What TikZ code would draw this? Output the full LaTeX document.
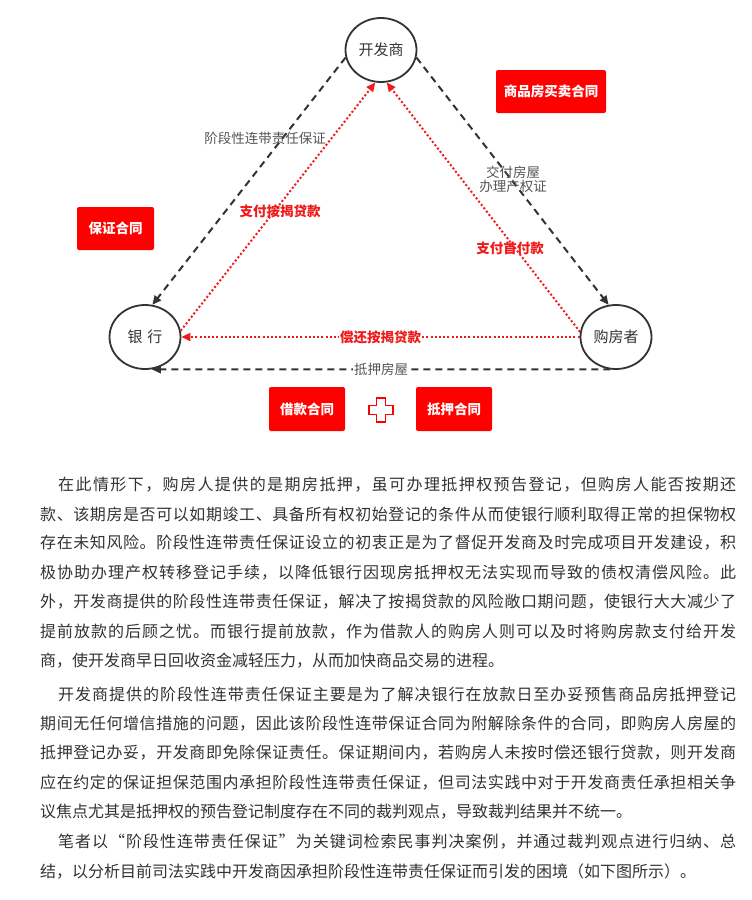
\documentclass[tikz,border=0pt]{standalone}
\usepackage{fontspec}
\setmainfont{Noto Sans CJK SC}
\usepackage{tikz}
\usetikzlibrary{arrows.meta,shapes.geometric}
\definecolor{inkgray}{HTML}{333333}
\definecolor{labelgray}{HTML}{555555}
\definecolor{boxred}{HTML}{FF0000}
\definecolor{cashred}{HTML}{F01A1A}
% spread the characters of one line over a given width
\makeatletter
\def\spreadline#1#2{\hbox to #1{\spread@first#2\@nil}}
\def\spread@first#1{#1\spread@next}
\def\spread@next#1{\ifx#1\@nil\else\hskip0pt plus 1fil #1\expandafter\spread@next\fi}
\makeatother

\begin{document}
\begin{tikzpicture}[x=1pt, y=-1pt, >={Triangle[length=9pt,width=8pt]},
		party/.style={ellipse, draw=inkgray, line width=1.8pt, minimum width=71pt, minimum height=64pt, inner sep=0pt, text=inkgray, font=\fontsize{15}{18}\selectfont},
		deal/.style={rectangle, rounded corners=2pt, fill=boxred, text=white, inner sep=0pt, font=\fontsize{13.5}{16}\selectfont\bfseries},
		tie/.style={draw=inkgray, line width=2pt, dash pattern=on 7pt off 5pt, ->},
		cash/.style={draw=cashred, line width=2pt, dash pattern=on 2pt off 2.2pt, ->},
		tielabel/.style={text=labelgray, inner sep=1pt, align=center, font=\fontsize{13.5}{15}\selectfont},
		cashlabel/.style={text=cashred, inner sep=1pt, font=\fontsize{13.5}{15}\selectfont\bfseries},
		body/.style={anchor=west, inner sep=0pt, text=inkgray, font=\fontsize{16}{20}\selectfont}]
		\path[use as bounding box, fill=white] (0,0) rectangle (752,900);
		% the three parties
		\node[party] (dev) at (381,50) {开发商};
		\node[party] (bank) at (145,337) {银\,\,行};
		\node[party] (buyer) at (616,337) {购房者};
		% contracts
		\node[deal, minimum width=110pt, minimum height=43pt] (sale) at (551,91.5) {商品房买卖合同};
		\node[deal, minimum width=77pt, minimum height=43pt] (guaranty) at (115.5,228.5) {保证合同};
		\node[deal, minimum width=76pt, minimum height=44pt] (loan) at (307,409) {借款合同};
		\node[deal, minimum width=76pt, minimum height=44pt] (pledge) at (454,409) {抵押合同};
		\draw[boxred, line width=1.8pt, fill=white, shift={(381,410)}]
			(-4.5,-12) -- (4.5,-12) -- (4.5,-4.5) -- (12,-4.5) -- (12,4.5) -- (4.5,4.5) -- (4.5,12)
			-- (-4.5,12) -- (-4.5,4.5) -- (-12,4.5) -- (-12,-4.5) -- (-4.5,-4.5) -- cycle; % plus sign
		% obligations
		\draw[tie] (dev.192) -- (bank.77);
		\draw[tie] (dev.-12) -- (buyer.103);
		\draw[tie] (buyer.-100) -- node[tielabel, fill=white] (mortgage) {抵押房屋} (bank.-78);
		\node[tielabel] (surety) at (265,138) {阶段性连带责任保证};
		\node[tielabel] (handover) at (513,179) {交付房屋\\[-1pt]办理产权证};
		% money flows
		\draw[cash] (bank.10) -- (dev.-100);
		\draw[cash] (buyer.172) -- (dev.-80);
		\draw[cash] (buyer.180) -- node[cashlabel, fill=white] (repay) {偿还按揭贷款} (bank.0);
		\node[cashlabel] (payloan) at (280,211) {支付按揭贷款};
		\node[cashlabel] (paydown) at (510,248) {支付首付款};
		% text below the figure
		\node[body] (l1) at (58,485) {\spreadline{678pt}{在此情形下，购房人提供的是期房抵押，虽可办理抵押权预告登记，但购房人能否按期还}};
		\node[body] (l2) at (40,514) {\spreadline{696pt}{款、该期房是否可以如期竣工、具备所有权初始登记的条件从而使银行顺利取得正常的担保物权}};
		\node[body] (l3) at (40,543) {\spreadline{696pt}{存在未知风险。阶段性连带责任保证设立的初衷正是为了督促开发商及时完成项目开发建设，积}};
		\node[body] (l4) at (40,572.5) {\spreadline{696pt}{极协助办理产权转移登记手续，以降低银行因现房抵押权无法实现而导致的债权清偿风险。此}};
		\node[body] (l5) at (40,602) {\spreadline{696pt}{外，开发商提供的阶段性连带责任保证，解决了按揭贷款的风险敞口期问题，使银行大大减少了}};
		\node[body] (l6) at (40,631.5) {\spreadline{696pt}{提前放款的后顾之忧。而银行提前放款，作为借款人的购房人则可以及时将购房款支付给开发}};
		\node[body] (l7) at (40,661) {商，使开发商早日回收资金减轻压力，从而加快商品交易的进程。};
		\node[body] (m1) at (58,694) {\spreadline{678pt}{开发商提供的阶段性连带责任保证主要是为了解决银行在放款日至办妥预售商品房抵押登记}};
		\node[body] (m2) at (40,723.5) {\spreadline{696pt}{期间无任何增信措施的问题，因此该阶段性连带保证合同为附解除条件的合同，即购房人房屋的}};
		\node[body] (m3) at (40,753) {\spreadline{696pt}{抵押登记办妥，开发商即免除保证责任。保证期间内，若购房人未按时偿还银行贷款，则开发商}};
		\node[body] (m4) at (40,782.5) {\spreadline{696pt}{应在约定的保证担保范围内承担阶段性连带责任保证，但司法实践中对于开发商责任承担相关争}};
		\node[body] (m5) at (40,812) {议焦点尤其是抵押权的预告登记制度存在不同的裁判观点，导致裁判结果并不统一。};
		\node[body] (n1) at (58,842) {\spreadline{678pt}{笔者以“阶段性连带责任保证”为关键词检索民事判决案例，并通过裁判观点进行归纳、总}};
		\node[body] (n2) at (40,871.5) {结，以分析目前司法实践中开发商因承担阶段性连带责任保证而引发的困境（如下图所示）。};
	\end{tikzpicture}
\end{document}
